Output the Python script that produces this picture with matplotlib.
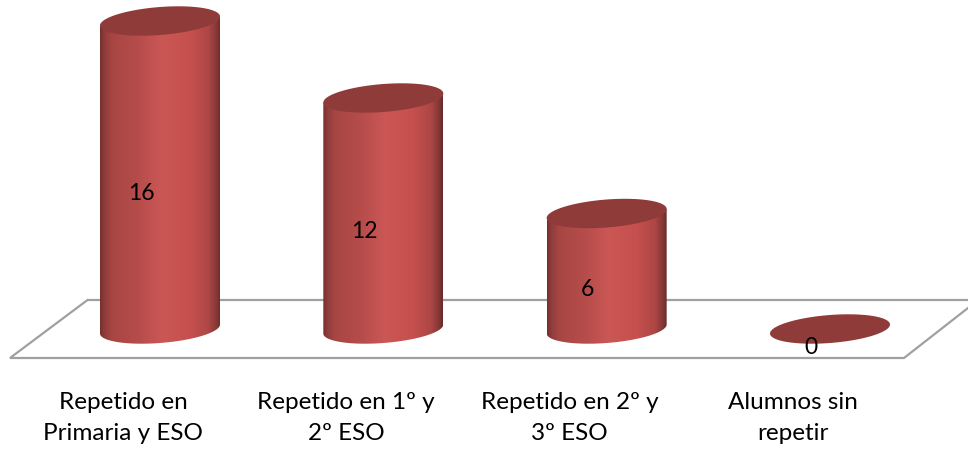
import numpy as np
import matplotlib
matplotlib.use('Agg')
import matplotlib.pyplot as plt
from matplotlib.path import Path
from matplotlib.patches import PathPatch
from matplotlib.colors import LinearSegmentedColormap

categories = ['Repetido en\nPrimaria y ESO', 'Repetido en 1º y\n2º ESO', 'Repetido en 2º y\n3º ESO', 'Alumnos sin\nrepetir']
values = [16, 12, 6, 0]

W, H = 968, 453
x_step = 223.33  # pixels between two bars
y_step = 19.25  # pixels for one unit
x0 = 160  # pixel of first bar centre
y0 = 329  # pixel of value zero

half_w = 60 / x_step  # cylinder half width
half_h = 14.0 / y_step  # cylinder ellipse half height
shear = 4.5 / y_step  # tilt of the ellipse

plt.rcParams['font.family'] = ['Lato', 'DejaVu Sans']

fig = plt.figure(figsize=(W / 100, H / 100), dpi=100)
ax = fig.add_axes([0, 0, 1, 1])
xlim = (-x0 / x_step, (W - x0) / x_step)
ylim = ((y0 - H) / y_step, y0 / y_step)


def px(x):
    return (x - x0) / x_step


def py(y):
    return (y0 - y) / y_step


# Floor of the 3D chart
floor_x = [px(968), px(904), px(10), px(87.5), px(968)]
floor_y = [py(308), py(358), py(358), py(300), py(300)]
ax.plot(floor_x, floor_y, color='#a0a0a0', lw=1.6, solid_joinstyle='miter', zorder=1)

shade = LinearSegmentedColormap.from_list('cyl', [
    (0.00, '#742f2d'), (0.03, '#8c3c3a'), (0.10, '#a84644'), (0.30, '#b44c4a'),
    (0.52, '#cb5755'), (0.75, '#c5504e'), (0.90, '#ad4745'), (0.97, '#823735'), (1.00, '#672b2a')])
gradient = np.linspace(0, 1, 256).reshape(1, -1)


def ellipse(cx, cy, t):
    return cx + half_w * np.cos(t), cy + shear * np.cos(t) + half_h * np.sin(t)


for i, v in enumerate(values):
    if v > 0:
        # body: lower half of base ellipse, closed by a chord hidden under the top ellipse
        bx, by = ellipse(i, 0, np.linspace(np.pi, 2 * np.pi, 80))
        tx, ty = ellipse(i, v, np.array([0, np.pi]))
        verts = np.column_stack([np.r_[bx, tx], np.r_[by, ty]])
        verts = np.vstack([verts, verts[0]])
        codes = [Path.MOVETO] + [Path.LINETO] * (len(verts) - 2) + [Path.CLOSEPOLY]
        body = PathPatch(Path(verts, codes), facecolor='none', edgecolor='none', transform=ax.transData)
        ax.add_patch(body)
        im = ax.imshow(gradient, cmap=shade, aspect='auto', zorder=2,
                       extent=[i - half_w, i + half_w, -half_h - shear, v + half_h + shear])
        im.set_clip_path(body)
    ex, ey = ellipse(i, v, np.linspace(0, 2 * np.pi, 160))
    ax.fill(ex, ey, color='#8f3b39', lw=0, zorder=3)
    ax.text(i - 0.085, v / 2 - 0.95, str(v), ha='center', va='center', fontsize=16.5, color='black', zorder=4)
    ax.text(i - 0.166, py(418), categories[i], ha='center', va='center', fontsize=17.5,
            color='black', linespacing=1.6, zorder=4)

ax.set_xlim(xlim)
ax.set_ylim(ylim)
ax.axis('off')
fig.savefig('out.png', dpi=100)
